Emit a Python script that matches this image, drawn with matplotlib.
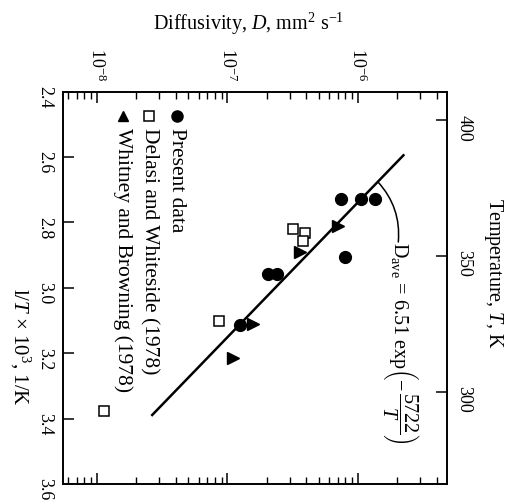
import numpy as np
import matplotlib
matplotlib.use("Agg")
import matplotlib.pyplot as plt
from matplotlib.ticker import LogLocator, NullFormatter, FixedLocator

plt.rcParams['font.family'] = ['Liberation Serif', 'DejaVu Serif']
plt.rcParams['mathtext.fontset'] = 'custom'
plt.rcParams['mathtext.rm'] = 'Liberation Serif'
plt.rcParams['mathtext.it'] = 'Liberation Serif:italic'
plt.rcParams['mathtext.bf'] = 'Liberation Serif:bold'

# ---- data (1/T x 10^3 in 1/K, D in mm^2/s) ----
present_invT = [2.730, 2.730, 2.730, 2.906, 2.959, 2.959, 3.115]
present_D = [7.36e-7, 1.06e-6, 1.36e-6, 8.0e-7, 2.06e-7, 2.38e-7, 1.25e-7]

delasi_invT = [2.820, 2.833, 2.857, 3.101, 3.376]
delasi_D = [3.16e-7, 3.93e-7, 3.81e-7, 8.65e-8, 1.14e-8]

whitney_invT = [2.812, 2.891, 3.111, 3.216]
whitney_D = [7.06e-7, 3.62e-7, 1.57e-7, 1.11e-7]

fit_invT = [2.595, 3.389]
fit_D = [2.23e-6, 2.65e-8]

invT_ticks = [2.4, 2.6, 2.8, 3.0, 3.2, 3.4, 3.6]
invT_labels = ['2.4', '2.6', '2.8', '3.0', '3.2', '3.4', '3.6']
T_ticks = [400, 350, 300]
D_ticks = [1e-8, 1e-7, 1e-6]
D_labels = [r'$10^{-8}$', r'$10^{-7}$', r'$10^{-6}$']

legend_labels = ['Present data', 'Delasi and Whiteside (1978)', 'Whitney and Browning (1978)']

W, H = 508, 502
fig = plt.figure(figsize=(W / 100, H / 100), dpi=100)
left, right, top, bottom = 63, 447, 92.5, 485
ax = fig.add_axes([left / W, 1 - bottom / H, (right - left) / W, (bottom - top) / H])

# fit line
ax.plot(fit_D, fit_invT, color='black', lw=1.8, zorder=2)

# data
ax.plot(present_D, present_invT, 'o', color='black', ms=8.5, zorder=3)
ax.plot(delasi_D, delasi_invT, 's', mfc='white', mec='black', mew=1.1, ms=6.5, zorder=3)
ax.plot(whitney_D, whitney_invT, '>', color='black', ms=8, zorder=3)

ax.set_xscale('log')
ax.set_xlim(5.49e-9, 4.81e-6)
ax.set_ylim(3.6, 2.4)

ax.xaxis.tick_top()
ax.xaxis.set_major_locator(FixedLocator(D_ticks))
ax.set_xticklabels(D_labels)
ax.xaxis.set_minor_locator(LogLocator(base=10, subs=np.arange(2, 10)))
ax.xaxis.set_minor_formatter(NullFormatter())
ax.tick_params(axis='x', which='both', direction='in', top=True, bottom=True,
               labeltop=True, labelbottom=False, labelrotation=-90,
               labelsize=13, pad=8)
ax.tick_params(axis='x', which='major', length=8, width=1.1)
ax.tick_params(axis='x', which='minor', length=5, width=1.0)

ax.set_yticks(invT_ticks)
ax.set_yticklabels(invT_labels)
ax.tick_params(axis='y', which='both', direction='in', left=True, right=False,
               labelrotation=-90, labelsize=13, length=8, width=1.1, pad=7)

for s in ax.spines.values():
    s.set_linewidth(1.4)

# temperature axis (right)
ax2 = ax.twinx()
ax2.set_ylim(265.9, 410.6)
ax2.set_yticks(T_ticks)
ax2.set_yticklabels([str(t) for t in T_ticks])
ax2.tick_params(axis='y', direction='in', length=8, width=1.1, labelrotation=-90,
                labelsize=13, pad=6)
for s in ax2.spines.values():
    s.set_visible(False)

# axis titles
fig.text(248.5 / W, 1 - 24 / H, r'Diffusivity, $D$, mm$^2$ s$^{-1}$', ha='center',
         va='center', fontsize=14.5)
fig.text(20 / W, 1 - 347 / H, r'l/$T$ $\times$ 10$^3$, 1/K', ha='center', va='center',
         rotation=-90, fontsize=15)
fig.text(493 / W, 1 - 273 / H, r'Temperature, $T$, K', ha='center', va='center',
         rotation=-90, fontsize=14.5)

# legend (rotated)
markers = [dict(marker='o', color='black', ms=8),
           dict(marker='s', mfc='white', mec='black', mew=1.1, ms=6.5, color='black'),
           dict(marker='^', color='black', ms=7.5)]
lx = [176.7, 149.3, 123.3]
for x, lab, mk in zip(lx, legend_labels, markers):
    xf = (x - left) / (right - left)
    ax.plot([xf], [1 - (117 - top) / (bottom - top)], transform=ax.transAxes,
            linestyle='none', clip_on=False, **mk)
    ax.text(xf, 1 - (128 - top) / (bottom - top), lab, transform=ax.transAxes,
            rotation=-90, ha='center', va='top', fontsize=15.5)

# equation
eq = r'$\mathrm{D_{ave}}$ = 6.51 exp$\left(-\,\dfrac{5722}{T}\right)$'
fig.text(401 / W, 1 - 242 / H, eq, rotation=-90, ha='center', va='top', fontsize=14.5)

# arc from line to equation
y0 = 2.676
d0 = 10 ** (np.interp(y0, fit_invT, np.log10(fit_D)))
ax.annotate('', xy=(398.3 / W, 1 - 243 / H), xycoords='figure fraction',
            xytext=(d0, y0), textcoords='data',
            arrowprops=dict(arrowstyle='-', color='black', lw=1.1,
                            connectionstyle='arc3,rad=-0.22', shrinkA=0, shrinkB=0))

fig.savefig('out.png', dpi=100)
